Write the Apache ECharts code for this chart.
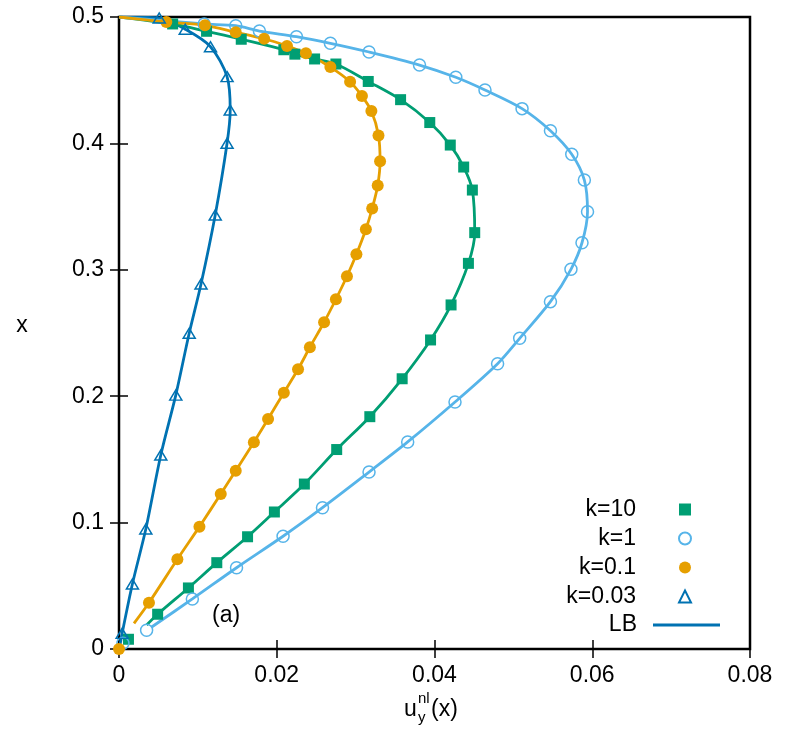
<!DOCTYPE html>
<html>
<head>
<meta charset="utf-8">
<script src="https://cdn.jsdelivr.net/npm/echarts@6/dist/echarts.min.js"></script>
<style>
html,body{margin:0;padding:0;background:#fff;}
#chart{width:788px;height:732px;}
</style>
</head>
<body>
<div id="chart"></div>
<script>
// ---- data (x = u_y^nl, y = x) ----
const xTicks = [0, 0.02, 0.04, 0.06, 0.08];
const yTicks = [0, 0.1, 0.2, 0.3, 0.4, 0.5];

const k10 = [[0.0012,0.0077],[0.0049,0.0275],[0.0088,0.0483],[0.0124,0.0683],[0.0163,0.0888],[0.0197,0.1084],[0.0235,0.1305],[0.0276,0.1578],[0.0318,0.1838],[0.0359,0.2138],[0.0395,0.2445],[0.0421,0.2722],[0.0443,0.3051],[0.0451,0.3294],[0.0448,0.3631],[0.0437,0.3813],[0.0420,0.3987],[0.0394,0.4165],[0.0357,0.4346],[0.0316,0.4490],[0.0275,0.4628],[0.0248,0.4668],[0.0223,0.4706],[0.0209,0.4741],[0.0155,0.4824],[0.0111,0.4887],[0.0068,0.4945]];

const k1 = [[0.0005,0.0045],[0.0035,0.0148],[0.0093,0.0396],[0.0149,0.0643],[0.0208,0.0892],[0.0258,0.1118],[0.0317,0.1400],[0.0366,0.1638],[0.0426,0.1954],[0.0480,0.2257],[0.0508,0.2458],[0.0547,0.2748],[0.0573,0.3004],[0.0587,0.3214],[0.0594,0.3460],[0.0590,0.3710],[0.0574,0.3914],[0.0547,0.4100],[0.0511,0.4275],[0.0464,0.4422],[0.0427,0.4523],[0.0381,0.4620],[0.0317,0.4723],[0.0268,0.4792],[0.0225,0.4844],[0.0178,0.4889],[0.0148,0.4931],[0.0108,0.4945]];

const k01 = [[0,0],[0.0038,0.0366],[0.0074,0.0710],[0.0102,0.0968],[0.0129,0.1226],[0.0148,0.1411],[0.0171,0.1636],[0.0189,0.1820],[0.0209,0.2028],[0.0227,0.2213],[0.0242,0.2387],[0.0260,0.2585],[0.0275,0.2767],[0.0289,0.2949],[0.0301,0.3123],[0.0313,0.3321],[0.0321,0.3485],[0.0328,0.3667],[0.0331,0.3858],[0.0329,0.4062],[0.0320,0.4256],[0.0308,0.4375],[0.0293,0.4488],[0.0268,0.4604],[0.0237,0.4713],[0.0213,0.4771],[0.0184,0.4828],[0.0148,0.4880],[0.0109,0.4934],[0.0060,0.4960]];

const k003 = [[0.0004,0.0124],[0.0017,0.0514],[0.0034,0.0949],[0.0053,0.1535],[0.0072,0.2009],[0.0089,0.2498],[0.0104,0.2888],[0.0122,0.3434],[0.0137,0.4001],[0.0141,0.4264],[0.0137,0.4528],[0.0116,0.4765],[0.0084,0.4903],[0.0051,0.4992]];

const lbStartK10 = [0.0035, 0.0190];
const lbStartK1 = [0.0041, 0.0172];
const lbStartK01 = [0.0019, 0.0203];
const lbStartK003 = [0.0001, 0.0020];
const lbEnd = [0, 0.5];

function lbCurve(start, pts) {
  return [start].concat(pts.filter(p => p[1] > start[1]), [lbEnd]);
}
const lbK10 = lbCurve(lbStartK10, k10);
const lbK1 = lbCurve(lbStartK1, k1);
const lbK01 = lbCurve(lbStartK01, k01);
const lbK003 = lbCurve(lbStartK003, k003);

// ---- styles ----
const C_GREEN = '#009e73', C_LBLUE = '#56b4e9', C_ORANGE = '#e69f00', C_DBLUE = '#0072b2';
const FONT = 'Liberation Sans, Arial, sans-serif';
const FS = 23;
const LW = 2.8;

const chart = echarts.init(document.getElementById('chart'), null, {renderer: 'canvas'});

function lineSeries(data, color) {
  return {
    type: 'line', name: 'LB', data: data, smooth: 0.3, showSymbol: false, symbol: 'none',
    lineStyle: {color: color, width: LW}, itemStyle: {color: color},
    emphasis: {disabled: true}, silent: true, z: 2
  };
}

const option = {
  backgroundColor: '#fff',
  animation: false,
  grid: {left: 119, right: 38, top: 17, bottom: 83, show: true, borderColor: '#000', borderWidth: 2.5, backgroundColor: 'transparent'},
  xAxis: [{
    type: 'value', min: xTicks[0], max: xTicks[xTicks.length - 1], interval: 0.02, position: 'bottom',
    axisLine: {show: false},
    axisTick: {show: true, inside: true, length: 9, lineStyle: {color: '#000', width: 1.5}},
    axisLabel: {color: '#000', fontFamily: FONT, fontSize: FS, margin: 15, formatter: v => String(+v.toFixed(2))},
    splitLine: {show: false}
  }, {
    type: 'value', min: xTicks[0], max: xTicks[xTicks.length - 1], interval: 0.02, position: 'top',
    axisLine: {show: false},
    axisTick: {show: true, inside: true, length: 9, lineStyle: {color: '#000', width: 1.5}},
    axisLabel: {show: false}, splitLine: {show: false}
  }],
  yAxis: [{
    type: 'value', min: yTicks[0], max: yTicks[yTicks.length - 1], interval: 0.1, position: 'left',
    axisLine: {show: false},
    axisTick: {show: true, inside: true, length: 9, lineStyle: {color: '#000', width: 1.5}},
    axisLabel: {color: '#000', fontFamily: FONT, fontSize: FS, margin: 15, formatter: v => String(+v.toFixed(1))},
    splitLine: {show: false}
  }, {
    type: 'value', min: yTicks[0], max: yTicks[yTicks.length - 1], interval: 0.1, position: 'right',
    axisLine: {show: false},
    axisTick: {show: true, inside: true, length: 9, lineStyle: {color: '#000', width: 1.5}},
    axisLabel: {show: false}, splitLine: {show: false}
  }],
  legend: [{
    data: ['k=10', 'k=1', 'k=0.1', 'k=0.03'],
    orient: 'vertical', align: 'right', right: 96, top: 495, padding: 0, itemGap: 0,
    itemWidth: 12, itemHeight: 12, selectedMode: false,
    textStyle: {color: '#000', fontFamily: FONT, fontSize: FS, lineHeight: 29, padding: [0, 38, 0, 0]}
  }, {
    data: [{name: 'LB', icon: 'rect', itemStyle: {color: C_DBLUE}}],
    orient: 'vertical', align: 'right', right: 68, top: 611, padding: 0, itemGap: 0,
    itemWidth: 67, itemHeight: 3, selectedMode: false,
    textStyle: {color: '#000', fontFamily: FONT, fontSize: FS, lineHeight: 28, padding: [0, 11, 0, 0]}
  }],
  series: [
    lineSeries(lbK003, C_DBLUE),
    lineSeries(lbK10, C_GREEN),
    lineSeries(lbK1, C_LBLUE),
    lineSeries(lbK01, C_ORANGE),
    {type: 'scatter', name: 'k=10', data: k10, symbol: 'rect', symbolSize: 11,
     itemStyle: {color: C_GREEN, opacity: 1}, z: 3, silent: true},
    {type: 'scatter', name: 'k=1', data: k1, symbol: 'circle', symbolSize: 12,
     itemStyle: {color: 'rgba(0,0,0,0)', borderColor: C_LBLUE, borderWidth: 1.5, opacity: 1}, z: 3, silent: true},
    {type: 'scatter', name: 'k=0.1', data: k01, symbol: 'circle', symbolSize: 12,
     itemStyle: {color: C_ORANGE, opacity: 1}, z: 3, silent: true},
    {type: 'scatter', name: 'k=0.03', data: k003, symbol: 'triangle', symbolSize: [12, 10],
     itemStyle: {color: 'rgba(0,0,0,0)', borderColor: C_DBLUE, borderWidth: 1.5, opacity: 1}, z: 3, silent: true}
  ],
  graphic: [
    {type: 'text', left: 212, top: 604, style: {text: '(a)', fill: '#000', font: FS + 'px ' + FONT}},
    {type: 'text', x: 22, y: 326, style: {text: 'x', fill: '#000', font: FS + 'px ' + FONT, align: 'center', verticalAlign: 'middle'}},
    {type: 'text', x: 404, y: 710, style: {text: 'u', fill: '#000', font: FS + 'px ' + FONT, align: 'left', verticalAlign: 'middle'}},
    {type: 'text', x: 418, y: 699, style: {text: 'nl', fill: '#000', font: '15px ' + FONT, align: 'left', verticalAlign: 'middle'}},
    {type: 'text', x: 418, y: 718, style: {text: 'y', fill: '#000', font: '15px ' + FONT, align: 'left', verticalAlign: 'middle'}},
    {type: 'text', x: 431, y: 710, style: {text: '(x)', fill: '#000', font: FS + 'px ' + FONT, align: 'left', verticalAlign: 'middle'}}
  ]
};
chart.setOption(option);
</script>
</body>
</html>
